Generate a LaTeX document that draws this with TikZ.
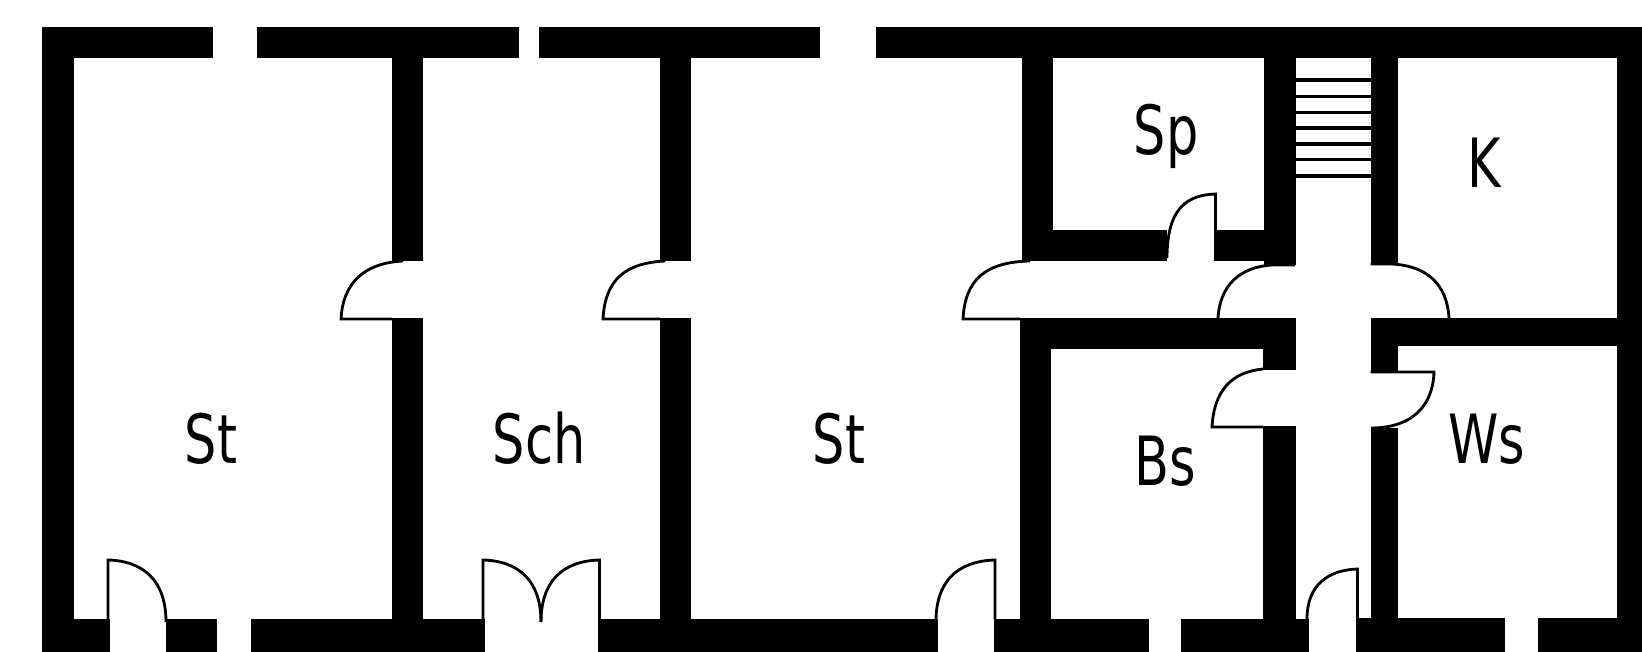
\documentclass[tikz,border=0pt]{standalone}
\usepackage{fontspec}
\newfontfamily\roomfont[FakeStretch=0.75]{DejaVu Sans}
\tikzset{
    my-wall/.style={
        fill=black, draw=none
    },
    my-door/.style={
        draw=black, line width=0.8pt, line join=miter
    },
    my-step/.style={
        draw=black, line width=0.95pt
    },
    my-room/.style={
        font=\roomfont\fontsize{19.3}{19.3}\selectfont, anchor=base, inner sep=0pt
    },
}
\begin{document}
\begin{tikzpicture}[x=0.01cm, y=-0.01cm]

        \useasboundingbox (0, 0) rectangle (1642, 652);

        % OUTER WALLS - TOP
        \fill[my-wall] (42, 27)   rectangle (212.5, 58);
        \fill[my-wall] (257, 27)  rectangle (518.5, 58);
        \fill[my-wall] (539, 27)  rectangle (820, 58);
        \fill[my-wall] (876, 27)  rectangle (1642, 58);

        % OUTER WALLS - BOTTOM
        \fill[my-wall] (42, 619)     rectangle (109.5, 651.5);
        \fill[my-wall] (165.5, 619)  rectangle (217, 651.5);
        \fill[my-wall] (250.5, 619)  rectangle (484.5, 651.5);
        \fill[my-wall] (597.5, 619)  rectangle (938, 651.5);
        \fill[my-wall] (993.5, 619)  rectangle (1149, 651.5);
        \fill[my-wall] (1181, 619)   rectangle (1309, 651.5);
        \fill[my-wall] (1356, 618)   rectangle (1505, 651.5);
        \fill[my-wall] (1537.5, 618) rectangle (1642, 651.5);

        % OUTER WALLS - LEFT AND RIGHT
        \fill[my-wall] (42, 27)     rectangle (73.5, 651.5);
        \fill[my-wall] (1616.5, 27) rectangle (1642, 651.5);

        % INNER WALLS - LONG ROOMS
        \fill[my-wall] (392, 58)  rectangle (423, 261);
        \fill[my-wall] (392, 318) rectangle (423, 619);
        \fill[my-wall] (660, 58)  rectangle (691, 261);
        \fill[my-wall] (660, 318) rectangle (691, 619);

        % INNER WALLS - SP
        \fill[my-wall] (1022, 58)    rectangle (1053, 261);
        \fill[my-wall] (1053, 230)   rectangle (1167, 261);
        \fill[my-wall] (1215, 230)   rectangle (1264, 261);
        \fill[my-wall] (1263.5, 58)  rectangle (1295.5, 265);

        % INNER WALLS - BS
        \fill[my-wall] (1020, 318)   rectangle (1295.5, 349);
        \fill[my-wall] (1020, 318)   rectangle (1051, 619);
        \fill[my-wall] (1263, 349)   rectangle (1295.5, 370.5);
        \fill[my-wall] (1263, 426)   rectangle (1295.5, 619);

        % INNER WALLS - K AND WS
        \fill[my-wall] (1370.5, 58)  rectangle (1398, 264);
        \fill[my-wall] (1370.5, 318) rectangle (1642, 346);
        \fill[my-wall] (1370.5, 346) rectangle (1398, 372);
        \fill[my-wall] (1370.5, 428) rectangle (1398, 619);

        % STAIRS
        \foreach \y in {80, 96.3, 112.3, 128, 143.9, 159.7, 175.9} {
            \draw[my-step] (1295.5, \y) -- (1370.5, \y);
        }

        % DOORS - BOTTOM
        \draw[my-door] (108, 619) -- (108, 560) .. controls (145, 561) and (166, 582) .. (166, 622);
        \draw[my-door] (483, 619) -- (483, 560) .. controls (520, 561) and (541, 582) .. (541, 622);
        \draw[my-door] (599.5, 619) -- (599.5, 560) .. controls (562, 561) and (541, 582) .. (541, 622);
        \draw[my-door] (995, 619) -- (995, 560) .. controls (957, 561) and (936, 582) .. (936, 621);
        \draw[my-door] (1357.5, 619) -- (1357.5, 569) .. controls (1328, 570) and (1307, 585) .. (1307, 619);

        % DOORS - LONG ROOMS
        \draw[my-door] (403, 261) .. controls (365, 263) and (343, 282) .. (341, 319) -- (392, 319);
        \draw[my-door] (665, 261) .. controls (625, 263) and (605, 280) .. (603, 319) -- (660, 319);
        \draw[my-door] (1030, 261) .. controls (985, 262) and (965, 280) .. (963, 319) -- (1020, 319);

        % DOORS - CORRIDOR
        \draw[my-door] (1215.5, 261) -- (1215.5, 194) .. controls (1188, 195) and (1167, 207) .. (1167, 258);
        \draw[my-door] (1295, 265) -- (1272, 265) .. controls (1240, 267) and (1220, 285) .. (1218, 318);
        \draw[my-door] (1370.5, 264) -- (1392, 264) .. controls (1428, 266) and (1447, 285) .. (1449, 318);
        \draw[my-door] (1263, 369) .. controls (1232, 372) and (1214, 390) .. (1212, 427) -- (1263, 427);
        \draw[my-door] (1370.5, 372) -- (1434, 372) .. controls (1433, 405) and (1413, 428) .. (1371, 428);

        % ROOM LABELS
        \node[my-room] (ST1) at (211, 464) {St};
        \node[my-room] (SCH) at (539, 464) {Sch};
        \node[my-room] (ST2) at (839, 464) {St};
        \node[my-room] (SP)  at (1166, 155) {Sp};
        \node[my-room] (K)   at (1484, 188) {K};
        \node[my-room] (BS)  at (1165, 486) {Bs};
        \node[my-room] (WS)  at (1487, 464) {Ws};

    \end{tikzpicture}
\end{document}
